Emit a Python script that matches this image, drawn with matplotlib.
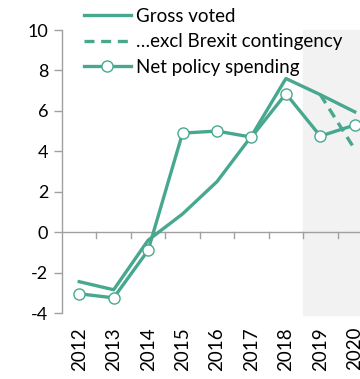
import matplotlib.pyplot as plt

# Public spending changes, % (fiscal years)
years = ["2012", "2013", "2014", "2015", "2016", "2017", "2018", "2019", "2020"]
gross_voted = [-2.45, -2.85, -0.4, 0.9, 2.5, 4.75, 7.6, 6.8, 5.95]
excl_brexit = [None, None, None, None, None, None, None, 6.8, 4.1]
net_policy = [-3.05, -3.25, -0.9, 4.9, 5.0, 4.7, 6.85, 4.75, 5.3]

teal = "#48a88f"
grey = "#a0a0a0"

plt.rcParams['font.family'] = ['Lato', 'DejaVu Sans']

fig = plt.figure(figsize=(3.6, 3.79), dpi=100)
ax = fig.add_axes([62 / 360, 1 - 313 / 379, 310 / 360, 283 / 379])

x = list(range(len(years)))

# forecast years shaded
ax.axvspan(6.5, 9, ymin=-0.007, ymax=1.0, color="#f2f2f2", zorder=0, clip_on=False)

ax.plot(x, gross_voted, color=teal, lw=2.4, label="Gross voted", zorder=3)
xb = [i for i, v in zip(x, excl_brexit) if v is not None]
yb = [v for v in excl_brexit if v is not None]
ax.plot(xb, yb, color=teal, lw=2.4, ls=(0, (3, 2)), label="…excl Brexit contingency", zorder=3)
ax.plot(x, net_policy, color=teal, lw=2.4, marker="o", ms=8, mfc="white",
        mec=teal, mew=1.0, label="Net policy spending", zorder=4)

ax.set_xlim(-0.5, 8.5)
ax.set_ylim(-4, 10)
ax.set_yticks(range(-4, 11, 2))
ax.set_yticklabels([str(v) for v in range(-4, 11, 2)], fontsize=13)

for s in ["top", "right", "bottom"]:
    ax.spines[s].set_visible(False)
ax.spines["left"].set_color(grey)
ax.spines["left"].set_linewidth(1.0)
ax.axhline(0, color=grey, lw=1.0, zorder=1)

# category ticks hang below the zero line
for b in [i + 0.5 for i in range(8)]:
    ax.plot([b, b], [0, -0.3], color=grey, lw=1.0, zorder=1)

ax.tick_params(axis="y", length=6, color=grey, width=1.0, pad=4)
ax.set_xticks(x)
ax.set_xticklabels(years, rotation=90, fontsize=13.5)
ax.tick_params(axis="x", length=0, pad=10)

ax.legend(loc="upper left", bbox_to_anchor=(84 / 360, 1 - 8 / 379), bbox_transform=fig.transFigure,
          frameon=False, fontsize=13.5, handlelength=2.5, handletextpad=0.3,
          labelspacing=0.45, borderaxespad=0, borderpad=0)

fig.savefig("out.png", dpi=100)
